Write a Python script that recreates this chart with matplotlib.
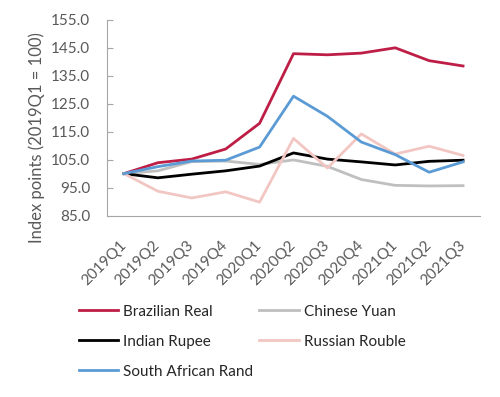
import numpy as np
import matplotlib
matplotlib.use("Agg")
import matplotlib.pyplot as plt
import matplotlib.transforms as mtransforms

quarters = ["2019Q1", "2019Q2", "2019Q3", "2019Q4", "2020Q1", "2020Q2",
            "2020Q3", "2020Q4", "2021Q1", "2021Q2", "2021Q3"]
brazil = [100.0, 103.9, 105.2, 108.8, 118.0, 142.9, 142.5, 143.1, 145.0, 140.4, 138.5]
china = [100.0, 101.0, 104.3, 104.5, 103.3, 104.9, 102.6, 97.9, 95.8, 95.6, 95.7]
india = [100.0, 98.5, 99.8, 101.0, 102.7, 107.4, 105.2, 104.2, 103.1, 104.4, 104.8]
russia = [100.0, 93.7, 91.3, 93.5, 89.8, 112.6, 102.0, 114.2, 107.0, 109.8, 106.5]
safrica = [100.0, 102.5, 104.5, 104.8, 109.5, 127.7, 120.5, 111.3, 106.8, 100.5, 104.2]

series = [
    ("Brazilian Real", brazil, "#BE1E45"),
    ("Chinese Yuan", china, "#BFBFBF"),
    ("Indian Rupee", india, "#000000"),
    ("Russian Rouble", russia, "#F2C6C2"),
    ("South African Rand", safrica, "#5B9BD5"),
]

plt.rcParams["font.family"] = ["Lato", "DejaVu Sans"]
TXT = "#595959"

fig = plt.figure(figsize=(5.0, 3.97), dpi=100)
ax = fig.add_axes([0.214, 0.457, 0.746, 0.493])

x = np.arange(len(quarters))
lines = {}
for name, vals, col in series:
    lines[name], = ax.plot(x, vals, color=col, lw=2, label=name)

ax.set_xlim(-0.5, len(quarters) - 0.5)
ax.set_ylim(85, 155)
ax.set_yticks(np.arange(85, 156, 10))
ax.set_yticklabels([f"{v:.1f}" for v in np.arange(85, 156, 10)])
ax.set_xticks(x)
ax.set_xticklabels(quarters, rotation=45, ha="right", va="center",
                   rotation_mode="anchor")
# nudge the slanted labels to the right, like the original
shift = mtransforms.ScaledTranslation(10 / 100, 0, fig.dpi_scale_trans)
for lbl in ax.get_xticklabels():
    lbl.set_transform(lbl.get_transform() + shift)

for s in ["top", "right"]:
    ax.spines[s].set_visible(False)
for s in ["left", "bottom"]:
    ax.spines[s].set_color("#A6A6A6")
ax.tick_params(axis="y", direction="in", colors="#A6A6A6", labelcolor=TXT,
               labelsize=11, length=4, pad=12)
ax.tick_params(axis="x", length=0, labelcolor=TXT, labelsize=11, pad=20)
ax.set_ylabel("Index points (2019Q1 = 100)", color=TXT, fontsize=12)
ax.yaxis.set_label_coords(-0.166, 0.40)

order = ["Brazilian Real", "Indian Rupee", "South African Rand",
         "Chinese Yuan", "Russian Rouble"]
fig.legend([lines[n] for n in order], order, ncol=2, frameon=False,
           loc="upper left", bbox_to_anchor=(0.13, 0.267), fontsize=11,
           labelcolor="#262626", handlelength=2.6, handletextpad=0.3,
           columnspacing=0.4, labelspacing=1.05)

fig.savefig("out.png", dpi=100)
